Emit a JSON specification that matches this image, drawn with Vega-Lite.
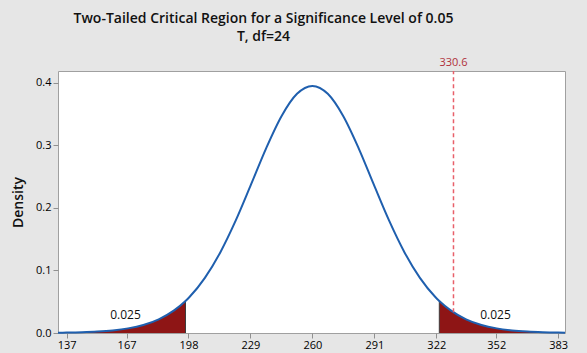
{
  "$schema": "https://vega.github.io/schema/vega-lite/v6.json",
  "width": 507,
  "height": 262,
  "autosize": {"type": "none"},
  "padding": {"left": 58, "top": 71, "right": 22, "bottom": 20},
  "background": "#e6e6e6",
  "title": {
    "text": "Two-Tailed Critical Region for a Significance Level of 0.05",
    "subtitle": "T, df=24",
    "font": "Open Sans",
    "fontSize": 14,
    "fontWeight": 600,
    "color": "#111111",
    "subtitleFont": "Open Sans",
    "subtitleFontSize": 14,
    "subtitleFontWeight": 600,
    "subtitleColor": "#111111",
    "subtitlePadding": 4,
    "anchor": "middle",
    "dx": -48,
    "offset": 13
  },
  "config": {
    "view": {"fill": "white", "stroke": "#a0a0a0", "strokeWidth": 1},
    "axis": {
      "labelFont": "Open Sans",
      "labelFontSize": 11,
      "labelColor": "#000000",
      "titleFont": "Open Sans",
      "titleFontSize": 14,
      "titleFontWeight": 600,
      "titleColor": "#111111",
      "domain": false,
      "grid": false,
      "tickColor": "#909090",
      "tickSize": 5
    }
  },
  "datasets": {
    "curve": [
      {"x": 132.7, "density": 0.00047},
      {"x": 137.0, "density": 0.00067},
      {"x": 144.7, "density": 0.00124},
      {"x": 152.4, "density": 0.00228},
      {"x": 160.1, "density": 0.00413},
      {"x": 167.75, "density": 0.00737},
      {"x": 175.4, "density": 0.0128},
      {"x": 183.1, "density": 0.0219},
      {"x": 190.8, "density": 0.0361},
      {"x": 196.5, "density": 0.0512},
      {"x": 198.5, "density": 0.0575},
      {"x": 206.2, "density": 0.0880},
      {"x": 213.9, "density": 0.1288},
      {"x": 221.6, "density": 0.1795},
      {"x": 229.25, "density": 0.2370},
      {"x": 236.9, "density": 0.2955},
      {"x": 244.6, "density": 0.3468},
      {"x": 252.3, "density": 0.3822},
      {"x": 260.0, "density": 0.3948},
      {"x": 267.7, "density": 0.3822},
      {"x": 275.4, "density": 0.3468},
      {"x": 283.1, "density": 0.2955},
      {"x": 290.75, "density": 0.2370},
      {"x": 298.4, "density": 0.1795},
      {"x": 306.1, "density": 0.1288},
      {"x": 313.8, "density": 0.0880},
      {"x": 321.5, "density": 0.0575},
      {"x": 323.5, "density": 0.0512},
      {"x": 329.2, "density": 0.0361},
      {"x": 336.9, "density": 0.0219},
      {"x": 344.6, "density": 0.0128},
      {"x": 352.25, "density": 0.00737},
      {"x": 359.9, "density": 0.00413},
      {"x": 367.6, "density": 0.00228},
      {"x": 375.3, "density": 0.00124},
      {"x": 383.0, "density": 0.00067},
      {"x": 386.4, "density": 0.00051}
    ],
    "crit": [
      {"x": 196.5, "density": 0.0512},
      {"x": 323.5, "density": 0.0512}
    ],
    "ref": [
      {"x": 330.6, "density": 0.033, "label": "330.6"}
    ],
    "probs": [
      {"x": 166.5, "density": 0.0294, "label": "0.025"},
      {"x": 351.6, "density": 0.0294, "label": "0.025"}
    ]
  },
  "encoding": {
    "x": {
      "field": "x",
      "type": "quantitative",
      "scale": {"domain": [132.7, 386.4], "nice": false, "zero": false},
      "axis": {"values": [137, 167, 198, 229, 260, 291, 322, 352, 383], "title": null, "labelPadding": 1}
    },
    "y": {
      "field": "density",
      "type": "quantitative",
      "scale": {"domain": [0, 0.4187], "nice": false},
      "axis": {"values": [0, 0.1, 0.2, 0.3, 0.4], "format": ".1f", "title": "Density", "titlePadding": 10, "labelPadding": 2}
    }
  },
  "layer": [
    {
      "data": {"name": "curve"},
      "transform": [{"filter": "datum.x <= 196.5"}],
      "mark": {"type": "area", "color": "#8e1515", "interpolate": "monotone"}
    },
    {
      "data": {"name": "curve"},
      "transform": [{"filter": "datum.x >= 323.5"}],
      "mark": {"type": "area", "color": "#8e1515", "interpolate": "monotone"}
    },
    {
      "data": {"name": "crit"},
      "mark": {"type": "rule", "color": "#3c3c3c", "strokeWidth": 1},
      "encoding": {"y2": {"datum": 0}}
    },
    {
      "data": {"name": "curve"},
      "mark": {"type": "line", "color": "#1f5fae", "strokeWidth": 2, "interpolate": "monotone"}
    },
    {
      "data": {"name": "ref"},
      "mark": {"type": "rule", "color": "#e8606a", "strokeWidth": 1.5, "strokeDash": [4, 3]},
      "encoding": {"y2": {"datum": 0.4187}}
    },
    {
      "data": {"name": "ref"},
      "mark": {"type": "text", "color": "#b0303a", "font": "Open Sans", "fontSize": 11, "baseline": "middle"},
      "encoding": {"y": {"datum": 0.4322}, "text": {"field": "label"}}
    },
    {
      "data": {"name": "probs"},
      "mark": {"type": "text", "color": "#111111", "font": "Open Sans", "fontSize": 12, "baseline": "middle"},
      "encoding": {"text": {"field": "label"}}
    }
  ]
}
